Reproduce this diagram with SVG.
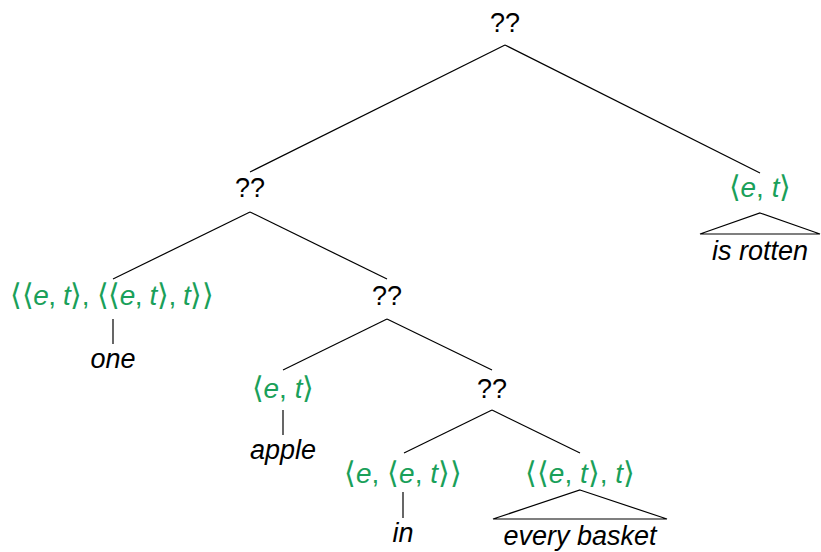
<svg xmlns="http://www.w3.org/2000/svg" width="821" height="552" viewBox="0 0 821 552">
<style>
text{font-family:"Liberation Sans","DejaVu Sans",sans-serif;font-size:27px;text-anchor:middle;fill:#000}
.g{fill:#1aa05a;font-size:28px}
.i{font-style:italic}
.b{font-family:"DejaVu Sans",sans-serif;font-size:30px;font-weight:300}
.w{font-style:italic}
line,polygon{stroke:#000;stroke-width:1.2;fill:none}
</style>
<rect width="821" height="552" fill="#fff"/>
<g id="connectors">
<line x1="505" y1="45" x2="250" y2="172"/>
<line x1="505" y1="45" x2="760" y2="173"/>
<line x1="250" y1="212" x2="113" y2="279"/>
<line x1="250" y1="212" x2="387" y2="279"/>
<line x1="387" y1="319" x2="283" y2="370"/>
<line x1="387" y1="319" x2="492" y2="370"/>
<line x1="492" y1="410" x2="404" y2="453"/>
<line x1="492" y1="410" x2="580" y2="453"/>
<line x1="113" y1="319" x2="113" y2="344"/>
<line x1="283" y1="410" x2="283" y2="435"/>
<line x1="403" y1="492" x2="403" y2="518"/>
<polygon points="760,213 820,234 700,234"/>
<polygon points="580,490 667,519 493,519"/>
</g>
<g id="root"><text x="505" y="32">??</text></g>
<g id="n1"><text x="250" y="197">??</text></g>
<g id="n2"><text class="g" x="760" y="197"><tspan class="b">⟨</tspan><tspan class="i">e</tspan>, <tspan class="i">t</tspan><tspan class="b">⟩</tspan></text></g>
<g id="n2leaf"><text class="w" x="760" y="260">is rotten</text></g>
<g id="n3"><text class="g" x="112" y="305" textLength="204" lengthAdjust="spacing"><tspan class="b">⟨⟨</tspan><tspan class="i">e</tspan>, <tspan class="i">t</tspan><tspan class="b">⟩</tspan>, <tspan class="b">⟨⟨</tspan><tspan class="i">e</tspan>, <tspan class="i">t</tspan><tspan class="b">⟩</tspan>, <tspan class="i">t</tspan><tspan class="b">⟩⟩</tspan></text></g>
<g id="n3leaf"><text class="w" x="113" y="368">one</text></g>
<g id="n4"><text x="387" y="305">??</text></g>
<g id="n5"><text class="g" x="283" y="398"><tspan class="b">⟨</tspan><tspan class="i">e</tspan>, <tspan class="i">t</tspan><tspan class="b">⟩</tspan></text></g>
<g id="n5leaf"><text class="w" x="283" y="459">apple</text></g>
<g id="n6"><text x="492" y="398">??</text></g>
<g id="n7"><text class="g" x="403" y="483"><tspan class="b">⟨</tspan><tspan class="i">e</tspan>, <tspan class="b">⟨</tspan><tspan class="i">e</tspan>, <tspan class="i">t</tspan><tspan class="b">⟩⟩</tspan></text></g>
<g id="n7leaf"><text class="w" x="403" y="542">in</text></g>
<g id="n8"><text class="g" x="580" y="483"><tspan class="b">⟨⟨</tspan><tspan class="i">e</tspan>, <tspan class="i">t</tspan><tspan class="b">⟩</tspan>, <tspan class="i">t</tspan><tspan class="b">⟩</tspan></text></g>
<g id="n8leaf"><text class="w" x="580" y="545">every basket</text></g>
</svg>
